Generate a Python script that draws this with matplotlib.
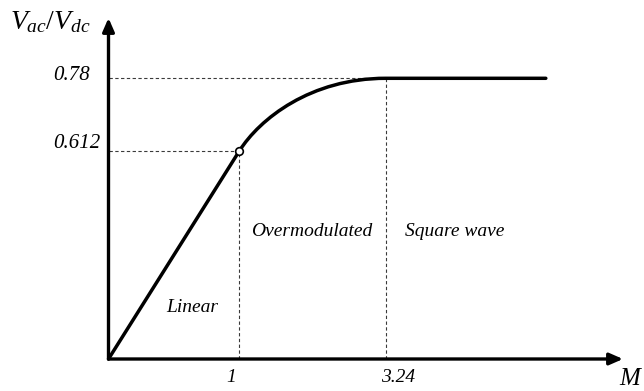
import matplotlib
matplotlib.use("Agg")
import matplotlib.pyplot as plt
from matplotlib.path import Path
from matplotlib.patches import PathPatch
import numpy as np

plt.rcParams['font.family'] = ['Liberation Serif', 'DejaVu Serif']
plt.rcParams['mathtext.fontset'] = 'custom'
plt.rcParams['mathtext.it'] = 'Liberation Serif:italic'
plt.rcParams['mathtext.rm'] = 'Liberation Serif'

# operating points of the inverter
m_linear = 1.0          # end of linear modulation
m_square = 3.24         # start of square-wave operation
v_linear = 0.612        # Vac/Vdc at the end of the linear range
v_square = 0.78         # Vac/Vdc in square-wave mode

# transfer curve: straight segment, bezier through overmodulation, flat tail
curve_m = [0.0, 1.0, 1.31, 2.09, 3.24, 5.69]
curve_v = [0.0, 0.612, 0.686, 0.78, 0.78, 0.78]
curve_codes = [Path.MOVETO, Path.LINETO, Path.CURVE4, Path.CURVE4, Path.CURVE4, Path.LINETO]

region_labels = ["Linear", "Overmodulated", "Square wave"]

# schematic (piecewise linear) axes, knots -> pixels from origin
M_KNOTS = [0.0, 1.0, 3.24, 8.0]
X_PX = [0.0, 130.8, 277.2, 588.3]
V_KNOTS = [0.0, 0.612, 0.78, 1.5]
Y_PX = [0.0, 208.0, 280.7, 592.2]


def fwd_x(v):
    return np.interp(v, M_KNOTS, X_PX)


def inv_x(v):
    return np.interp(v, X_PX, M_KNOTS)


def fwd_y(v):
    return np.interp(v, V_KNOTS, Y_PX)


def inv_y(v):
    return np.interp(v, Y_PX, V_KNOTS)


W, H = 644, 391
ox, oy = 108.5, 359.0
ax_w, ax_h = 514.5, 341.0

fig = plt.figure(figsize=(W / 100, H / 100), dpi=100)
ax = fig.add_axes([ox / W, (H - oy) / H, ax_w / W, ax_h / H])
ax.set_xscale('function', functions=(fwd_x, inv_x))
ax.set_yscale('function', functions=(fwd_y, inv_y))
ax.set_xlim(0, inv_x(ax_w))
ax.set_ylim(0, inv_y(ax_h))
ax.set_axis_off()

# axes with arrow heads
arrow = dict(arrowstyle='-|>,head_length=0.8,head_width=0.35', lw=2.4,
             color='black', shrinkA=0, shrinkB=0, mutation_scale=10)
ax.annotate('', xy=(1, 0), xytext=(0, 0), xycoords='axes fraction', arrowprops=arrow)
ax.annotate('', xy=(0, 1), xytext=(0, 0), xycoords='axes fraction', arrowprops=arrow)

# dashed guide lines
dash = dict(color='#3a3a3a', lw=0.8, linestyle=(0, (3, 2.2)), clip_on=False)
ax.plot([0, m_linear], [v_linear, v_linear], **dash)
ax.plot([m_linear, m_linear], [0, v_linear], **dash)
ax.plot([0, m_square], [v_square, v_square], **dash)
ax.plot([m_square, m_square], [0, v_square], **dash)

# transfer characteristic
path = Path(np.column_stack([curve_m, curve_v]), curve_codes)
ax.add_patch(PathPatch(path, facecolor='none', edgecolor='black', lw=2.5,
                       capstyle='round', joinstyle='round', clip_on=False, zorder=3))
ax.plot([m_linear], [v_linear], 'o', ms=5.5, mfc='white', mec='black', mew=1.2,
        zorder=4, clip_on=False)

# tick values
tick = dict(textcoords='offset pixels', style='italic', va='center', annotation_clip=False)
ax.annotate('1', xy=(m_linear, 0), xytext=(-8, -19), ha='center', fontsize=14, **tick)
ax.annotate(f'{m_square:g}', xy=(m_square, 0), xytext=(12.5, -19), ha='center', fontsize=14, **tick)
ax.annotate(f'{v_square:g}', xy=(0, v_square), xytext=(-55.5, 3), ha='left', fontsize=15, **tick)
ax.annotate(f'{v_linear:g}', xy=(0, v_linear), xytext=(-55.5, 7), ha='left', fontsize=15, **tick)


def px(x, y):
    return x / W, 1 - y / H


# axis titles
fig.text(*px(50, 22), r'$V_{ac}/V_{dc}$', fontsize=20, ha='center', va='center')
fig.text(*px(631, 379), r'$M$', fontsize=18, ha='center', va='center')

# operating regions
fig.text(*px(192, 307), region_labels[0], style='italic', fontsize=14, ha='center', va='center')
fig.text(*px(312, 232), region_labels[1], style='italic', fontsize=14, ha='center', va='center')
fig.text(*px(455, 232), region_labels[2], style='italic', fontsize=14, ha='center', va='center')

fig.savefig('out.png', dpi=100)
